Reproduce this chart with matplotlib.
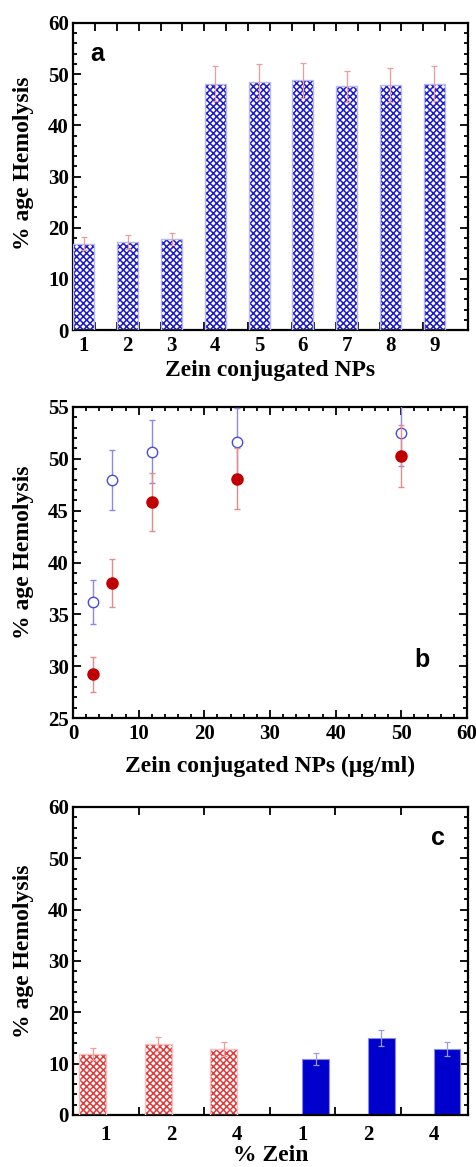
import matplotlib
matplotlib.use('Agg')
import matplotlib.pyplot as plt
import numpy as np
from matplotlib.ticker import MultipleLocator

plt.rcParams['font.family'] = ['Liberation Serif', 'DejaVu Serif']
plt.rcParams['font.weight'] = 'bold'
plt.rcParams['hatch.linewidth'] = 1.1

# ---------------- data ----------------
# panel a
a_cats = [1, 2, 3, 4, 5, 6, 7, 8, 9]
a_vals = [16.9, 17.2, 17.8, 48.1, 48.5, 48.8, 47.6, 47.9, 48.1]
a_err = [1.2, 1.3, 1.1, 3.4, 3.4, 3.4, 3.1, 3.3, 3.4]

# panel b
b_conc = [3, 6, 12, 25, 50]
b_open = [36.2, 48.0, 50.7, 51.6, 52.5]
b_open_err = [2.1, 2.9, 3.0, 3.3, 3.2]
b_filled = [29.2, 38.0, 45.8, 48.1, 50.3]
b_filled_err = [1.7, 2.3, 2.8, 2.9, 3.0]

# panel c
c_labels = ['1', '2', '4', '1', '2', '4']
c_red = [11.9, 13.85, 12.9]
c_red_err = [1.2, 1.4, 1.4]
c_blue = [10.9, 15.0, 12.9]
c_blue_err = [1.1, 1.5, 1.4]

fig = plt.figure(figsize=(4.77, 11.67), dpi=100)

W = 477.0
H = 1167.0
def pos(l, r, t, b):
    return [l / W, 1 - b / H, (r - l) / W, (b - t) / H]

tick_fs = 15
lab_fs = 17
letter_fs = 18

def style(ax):
    for s in ax.spines.values():
        s.set_linewidth(1.6)
    ax.tick_params(which='both', direction='in', top=True, right=True,
                   width=1.3, labelsize=tick_fs)
    ax.tick_params(which='major', length=5.5, pad=3)
    ax.tick_params(which='minor', length=3)
    for lab in ax.get_xticklabels(which='both') + ax.get_yticklabels(which='both'):
        lab.set_fontweight('bold')

# ---------------- panel a ----------------
ax = fig.add_axes(pos(73, 468, 23, 330))
w = 0.48
ax.bar(a_cats, a_vals, width=w, color='white', edgecolor='#1a1acc',
       hatch='xxxxx', linewidth=0, zorder=2)
ax.bar(a_cats, a_vals, width=w, fill=False, edgecolor='#b8b8f0',
       linewidth=1.0, zorder=3)
ax.errorbar(a_cats, a_vals, yerr=a_err, fmt='none', ecolor='#f09a9a',
            elinewidth=0.9, capsize=2.5, capthick=0.9, zorder=4)
ax.set_xlim(0.75, 9.77)
ax.set_ylim(0, 60)
ax.set_xticks(a_cats)
ax.set_xticklabels([str(c) for c in a_cats])
edges = sorted([c - 0.25 for c in a_cats] + [c + 0.25 for c in a_cats])
ax.set_xticks(edges, minor=True)
ax.yaxis.set_major_locator(MultipleLocator(10))
ax.yaxis.set_minor_locator(MultipleLocator(2))
style(ax)
ax.tick_params(axis='x', which='major', length=0, pad=4)
ax.tick_params(axis='x', which='minor', length=5.5)
ax.set_xlabel('Zein conjugated NPs', fontsize=lab_fs, fontweight='bold', labelpad=3)
ax.set_ylabel('% age Hemolysis', fontsize=lab_fs, fontweight='bold')
ax.yaxis.set_label_coords(-0.099, 0.544)
ax.text(1.15, 54, 'a', fontsize=letter_fs, fontweight='bold', family='Liberation Sans',
        va='center', ha='left')

# ---------------- panel b ----------------
ax = fig.add_axes(pos(73, 467, 407, 718))
ax.errorbar(b_conc, b_open, yerr=b_open_err, fmt='o', ms=7.5, mfc='white',
            mec='#4a4ae0', mew=1.0, ecolor='#8a8ae6', elinewidth=1.0,
            capsize=2.5, capthick=1.0, zorder=3)
ax.errorbar(b_conc, b_filled, yerr=b_filled_err, fmt='o', ms=8, mfc='#c00000',
            mec='#c00000', mew=1.0, ecolor='#e68a8a', elinewidth=1.0,
            capsize=2.5, capthick=1.0, zorder=4)
ax.set_xlim(0, 60)
ax.set_ylim(25, 55)
ax.xaxis.set_major_locator(MultipleLocator(10))
ax.xaxis.set_minor_locator(MultipleLocator(2))
ax.yaxis.set_major_locator(MultipleLocator(5))
ax.yaxis.set_minor_locator(MultipleLocator(1))
style(ax)
ax.tick_params(axis='x', which='major', pad=4)
ax.set_xlabel('Zein conjugated NPs (\u03bcg/ml)', fontsize=lab_fs, fontweight='bold', labelpad=9)
ax.set_ylabel('% age Hemolysis', fontsize=lab_fs, fontweight='bold')
ax.yaxis.set_label_coords(-0.099, 0.534)
ax.text(52.0, 30.6, 'b', fontsize=letter_fs, fontweight='bold', family='Liberation Sans',
        va='center', ha='left')

# ---------------- panel c ----------------
ax = fig.add_axes(pos(73, 468, 807, 1115))
c_pos = np.arange(1, len(c_labels) + 1)
red_x = c_pos[:3] - 0.2
blue_x = c_pos[3:] + 0.2
cw = 0.41
ax.bar(red_x, c_red, width=cw, color='white', edgecolor='#e03a3a',
       hatch='xxxxx', linewidth=0, zorder=2)
ax.bar(red_x, c_red, width=cw, fill=False, edgecolor='#f5c0c0',
       linewidth=1.0, zorder=3)
ax.errorbar(red_x, c_red, yerr=c_red_err, fmt='none', ecolor='#f09a9a',
            elinewidth=0.9, capsize=2.5, capthick=0.9, zorder=4)
ax.bar(blue_x, c_blue, width=cw, color='#0000cc', edgecolor='#8a8ae6',
       linewidth=0.8, zorder=2)
ax.errorbar(blue_x, c_blue, yerr=c_blue_err, fmt='none', ecolor='#9a9af0',
            elinewidth=0.9, capsize=2.5, capthick=0.9, zorder=4)
ax.set_xlim(0.5, 6.52)
ax.set_ylim(0, 60)
ax.set_xticks(c_pos[:-1] + 0.5)
ax.set_xticklabels([])
ax.set_xticks(c_pos, minor=True)
ax.set_xticklabels(c_labels, minor=True)
ax.yaxis.set_major_locator(MultipleLocator(10))
ax.yaxis.set_minor_locator(MultipleLocator(2))
style(ax)
ax.tick_params(axis='x', which='minor', length=0, pad=7)
ax.tick_params(axis='y', which='minor', length=3)
ax.set_xlabel('% Zein', fontsize=lab_fs, fontweight='bold', labelpad=0)
ax.set_ylabel('% age Hemolysis', fontsize=lab_fs, fontweight='bold')
ax.yaxis.set_label_coords(-0.099, 0.532)
ax.text(5.95, 54, 'c', fontsize=letter_fs, fontweight='bold', family='Liberation Sans',
        va='center', ha='left')

fig.savefig('out.png', dpi=100)
